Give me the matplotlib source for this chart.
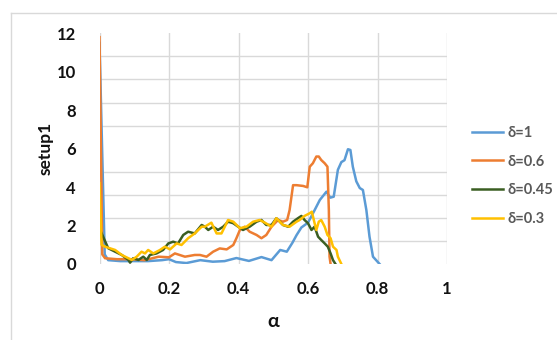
import matplotlib
matplotlib.use("Agg")
import matplotlib.pyplot as plt
from matplotlib.lines import Line2D
import numpy as np

plt.rcParams['font.family'] = ['Lato', 'DejaVu Sans']

# delta = 1
alpha_d1 = [0, 0.015, 0.025, 0.06, 0.1, 0.14, 0.18, 0.2, 0.22, 0.25, 0.29, 0.326,
            0.36, 0.394, 0.43, 0.466, 0.495, 0.52, 0.539, 0.555, 0.567, 0.581, 0.6, 0.619,
            0.634, 0.653, 0.664, 0.674, 0.686, 0.696, 0.705, 0.715, 0.722, 0.729, 0.739,
            0.749, 0.758, 0.768, 0.777, 0.787, 0.806]
setup_d1 = [11.5, 0.5, 0.2, 0.15, 0.15, 0.15, 0.2, 0.25, 0.1, 0.05, 0.2, 0.12,
            0.15, 0.31, 0.16, 0.36, 0.2, 0.73, 0.64, 1.1, 1.5, 1.9, 2.15, 2.8,
            3.33, 3.76, 3.45, 3.5, 4.9, 5.3, 5.4, 5.97, 5.93, 5.06, 4.3,
            3.95, 3.85, 2.8, 1.42, 0.38, 0]

# delta = 0.6
alpha_d06 = [0, 0.008, 0.016, 0.05, 0.09, 0.13, 0.17, 0.2, 0.217, 0.246, 0.274, 0.289,
             0.308, 0.327, 0.346, 0.366, 0.385, 0.394, 0.404, 0.418, 0.432, 0.452, 0.466,
             0.48, 0.495, 0.514, 0.528, 0.54, 0.547, 0.557, 0.567, 0.586, 0.598, 0.605,
             0.614, 0.624, 0.631, 0.638, 0.648, 0.656, 0.66, 0.662, 0.665]
setup_d06 = [11.8, 0.5, 0.3, 0.25, 0.25, 0.2, 0.38, 0.35, 0.55, 0.38, 0.47, 0.47,
             0.38, 0.64, 0.81, 0.76, 0.99, 1.34, 1.77, 1.94, 1.68, 1.51, 1.34,
             1.51, 1.94, 2.29, 2.2, 2.29, 2.8, 4.1, 4.1, 4.06, 3.99, 5.06,
             5.24, 5.59, 5.59, 5.41, 5.24, 5.06, 2.8, 0.38, 0]

# delta = 0.45
alpha_d045 = [0, 0.004, 0.025, 0.045, 0.064, 0.083, 0.088, 0.097, 0.112, 0.126, 0.136,
              0.145, 0.164, 0.183, 0.198, 0.212, 0.226, 0.241, 0.255, 0.274, 0.294,
              0.303, 0.313, 0.327, 0.341, 0.356, 0.37, 0.385, 0.399, 0.413, 0.432,
              0.452, 0.466, 0.48, 0.495, 0.509, 0.528, 0.543, 0.557, 0.571, 0.581,
              0.59, 0.6, 0.61, 0.619, 0.629, 0.638, 0.648, 0.657, 0.665, 0.672, 0.679]
setup_d045 = [1.9, 1.68, 0.82, 0.64, 0.47, 0.21, 0.07, 0.3, 0.21, 0.38, 0.21,
              0.47, 0.55, 0.73, 1.07, 1.16, 1.07, 1.51, 1.68, 1.59, 2.03,
              1.94, 1.77, 1.94, 1.77, 1.94, 2.2, 2.12, 1.94, 1.77, 1.94,
              2.2, 2.29, 2.03, 2.03, 2.38, 2.03, 1.94, 2.2, 2.38, 2.5,
              2.29, 2.12, 1.77, 1.94, 1.42, 1.25, 1.07, 0.9, 0.55, 0.2, 0]

# delta = 0.3
alpha_d03 = [0, 0.006, 0.016, 0.045, 0.064, 0.093, 0.107, 0.121, 0.131, 0.14, 0.155,
             0.174, 0.188, 0.203, 0.222, 0.236, 0.255, 0.274, 0.294, 0.303, 0.322,
             0.337, 0.351, 0.37, 0.385, 0.404, 0.423, 0.442, 0.461, 0.476, 0.495,
             0.509, 0.528, 0.547, 0.567, 0.576, 0.59, 0.605, 0.611, 0.619, 0.624,
             0.631, 0.638, 0.648, 0.656, 0.665, 0.672, 0.682, 0.686, 0.696]
setup_d03 = [4.2, 1.0, 0.9, 0.73, 0.47, 0.21, 0.38, 0.64, 0.55, 0.73, 0.55,
             0.73, 0.9, 0.76, 1.07, 0.99, 1.34, 1.59, 1.94, 1.94, 2.15,
             1.59, 1.59, 2.29, 2.2, 1.86, 1.94, 2.2, 2.29, 2.15, 1.94,
             2.38, 2.03, 1.94, 2.2, 2.29, 2.5, 2.64, 2.72, 2.12, 1.77,
             2.2, 2.29, 1.94, 1.51, 1.34, 0.9, 0.73, 0.38, 0]

labels = ["δ=1", "δ=0.6", "δ=0.45", "δ=0.3"]
colors = ["#5B9BD5", "#ED7D31", "#3B5E22", "#FFC000"]
x_ticks = [0, 0.2, 0.4, 0.6, 0.8, 1]
x_ticklabels = ["0", "0.2", "0.4", "0.6", "0.8", "1"]
y_ticks = [0, 2, 4, 6, 8, 10, 12]

W, H = 557, 340
fig = plt.figure(figsize=(W / 100, H / 100), dpi=100)
fig.patch.set_facecolor("white")

# chart-area outline
grid_c = "#D9D9D9"
fig.add_artist(Line2D([11 / W, 11 / W], [0, 1 - 13 / H], color=grid_c, lw=1.0,
                      transform=fig.transFigure))
fig.add_artist(Line2D([11 / W, 1], [1 - 13 / H, 1 - 13 / H], color=grid_c, lw=1.0,
                      transform=fig.transFigure))

left, right, top, bottom = 99.5, 447, 33.3, 264
ax = fig.add_axes([left / W, 1 - bottom / H, (right - left) / W, (bottom - top) / H])

series = [(alpha_d1, setup_d1), (alpha_d06, setup_d06),
          (alpha_d045, setup_d045), (alpha_d03, setup_d03)]
for (xs, ys), lab, c in zip(series, labels, colors):
    ax.plot(xs, ys, color=c, lw=1.8, label=lab, solid_joinstyle="round", zorder=3)

ax.set_xlim(0, 1)
ax.set_ylim(0, 12)
ax.set_xticks(x_ticks)
ax.set_xticklabels(x_ticklabels)
ax.set_yticks(y_ticks)
ax.set_yticks(np.linspace(0, 12, 11), minor=True)
ax.tick_params(axis="both", which="both", length=0)
ax.tick_params(axis="x", pad=12, labelsize=12)
ax.tick_params(axis="y", pad=17, labelsize=12)
for t in ax.get_xticklabels() + ax.get_yticklabels():
    t.set_fontweight("bold")
    t.set_color("#111111")

ax.grid(False)
ax.xaxis.grid(True, which="major", color=grid_c, lw=1.0)
ax.yaxis.grid(True, which="minor", color=grid_c, lw=1.0)
ax.set_axisbelow(True)
for s in ax.spines.values():
    s.set_visible(False)

ax.set_xlabel("α", fontsize=14, fontweight="bold", labelpad=12, color="#111111")
ax.set_ylabel("setup1", fontsize=12.5, fontweight="bold", labelpad=2, color="#111111")

leg = ax.legend(loc="upper left", bbox_to_anchor=(472 / W, 1 - 126 / H),
                bbox_transform=fig.transFigure, frameon=False, fontsize=10.5,
                handlelength=2.1, handletextpad=0.35, labelspacing=1.0,
                borderpad=0, borderaxespad=0)
for t in leg.get_texts():
    t.set_fontweight("bold")
    t.set_color("#595959")

fig.savefig("out.png", dpi=100)
